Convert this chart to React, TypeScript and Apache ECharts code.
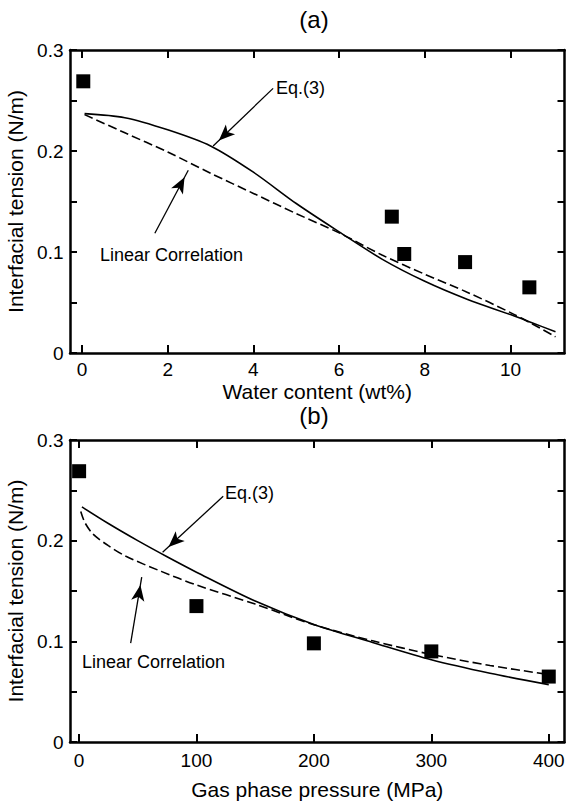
import React, { useEffect, useRef } from "react";
import * as echarts from "echarts";

const FONT = "'Liberation Sans', Arial, Helvetica, sans-serif";

// Measured interfacial tension (N/m); the same samples appear in both panels
const measuredTension = [0.269, 0.135, 0.098, 0.09, 0.065];
const measuredWater = [0.03, 7.23, 7.52, 8.94, 10.44];
const measuredPressure = [0.1, 100, 200, 300, 400];

// Panel (a): tension vs water content
const eqWaterX = [0.06, 1, 2, 3, 4, 5, 6, 7, 8, 9, 10, 10.5, 11.05];
const eqWaterY = [0.237, 0.233, 0.221, 0.205, 0.179, 0.148, 0.12, 0.093, 0.071, 0.053, 0.038, 0.03, 0.021];
const linWaterX = [0.06, 1, 2, 3, 4, 5, 6, 7, 8, 9, 10, 10.5, 11.05];
const linWaterY = [0.236, 0.218, 0.199, 0.178, 0.158, 0.138, 0.119, 0.097, 0.078, 0.06, 0.04, 0.029, 0.016];

// Panel (b): tension vs gas phase pressure
const eqPressX = [2.5, 25, 50, 75, 100, 150, 200, 250, 300, 350, 400];
const eqPressY = [0.2335, 0.217, 0.2, 0.184, 0.1687, 0.14, 0.1167, 0.0989, 0.0817, 0.0683, 0.057];
const linPressX = [1.5, 5, 12, 25, 40, 70, 100, 150, 200, 250, 300, 350, 400];
const linPressY = [0.229, 0.218, 0.2065, 0.195, 0.1845, 0.1695, 0.156, 0.137, 0.1165, 0.1005, 0.087, 0.076, 0.067];

const waterTicks = [0, 2, 4, 6, 8, 10];
const pressureTicks = [0, 100, 200, 300, 400];

// Arrow annotations: [tailX, tailY, headX, headY] in data units
const arrowEqWater = [4.46, 0.262, 3.06, 0.205];
const arrowLinWater = [1.7, 0.1185, 2.48, 0.181];
const arrowEqPress = [122.8, 0.2441, 71.2, 0.1884];
const arrowLinPress = [44, 0.0983, 53.4, 0.1638];

const zip = (xs: number[], ys: number[]) => xs.map((x, i) => [x, ys[i]]);

const BLACK = "#000";
const frameLine = { show: true, onZero: false, lineStyle: { color: BLACK, width: 2.5 } };
const tickStyle = { color: BLACK, width: 2 };

function xAxisPair(gridIndex: number, min: number, max: number, ticks: number[], name: string, nameGap: number, margin: number) {
  return [
    {
      type: "value", gridIndex, position: "bottom", min, max,
      name, nameLocation: "middle", nameGap,
      nameTextStyle: { fontSize: 21, color: BLACK, fontFamily: FONT },
      axisLine: frameLine,
      axisTick: { show: true, inside: true, length: 8, lineStyle: tickStyle, customValues: ticks },
      axisLabel: { customValues: ticks, fontSize: 19, color: BLACK, margin, fontFamily: FONT },
      splitLine: { show: false },
    },
    {
      type: "value", gridIndex, position: "top", min, max,
      axisLine: frameLine,
      axisTick: { show: true, inside: true, length: 8, lineStyle: tickStyle, customValues: ticks },
      axisLabel: { show: false },
      splitLine: { show: false },
    },
  ];
}

function yAxisPair(gridIndex: number) {
  return [
    {
      type: "value", gridIndex, position: "left", min: 0, max: 0.3, interval: 0.05,
      name: "Interfacial tension (N/m)", nameLocation: "middle", nameGap: 40, nameRotate: 90,
      nameTextStyle: { fontSize: 21, color: BLACK, fontFamily: FONT },
      axisLine: frameLine,
      axisTick: { show: true, inside: true, length: 7, lineStyle: tickStyle },
      axisLabel: {
        fontSize: 19, color: BLACK, margin: 6.5, fontFamily: FONT,
        formatter: (v: number) => {
          const k = Math.round(v * 20);
          if (k % 2 === 1) return "";
          return k === 0 ? "0" : (k / 20).toFixed(1);
        },
      },
      splitLine: { show: false },
    },
    {
      type: "value", gridIndex, position: "right", min: 0, max: 0.3, interval: 0.05,
      axisLine: frameLine,
      axisTick: { show: true, inside: true, length: 7, lineStyle: tickStyle },
      axisLabel: { show: false },
      splitLine: { show: false },
    },
  ];
}

function arrowMark(a: number[]) {
  return {
    silent: true,
    animation: false,
    label: { show: false },
    emphasis: { disabled: true },
    lineStyle: { color: BLACK, width: 1.3, type: "solid" },
    symbol: ["none", "arrow"],
    data: [
      [
        { coord: [a[0], a[1]], symbol: "none" },
        { coord: [a[2], a[3]], symbol: "arrow", symbolSize: [10, 16], symbolOffset: [0, 8] },
      ],
    ],
  };
}

function curve(xi: number, yi: number, xs: number[], ys: number[], dashed: boolean, arrow: number[]) {
  return {
    type: "line", xAxisIndex: xi, yAxisIndex: yi,
    data: zip(xs, ys),
    showSymbol: false, symbol: "none",
    smooth: 0.3,
    lineStyle: { color: BLACK, width: 1.6, type: dashed ? [9, 4] : "solid" },
    z: 3,
    markLine: arrowMark(arrow),
  };
}

function samples(xi: number, yi: number, xs: number[]) {
  return {
    type: "scatter", xAxisIndex: xi, yAxisIndex: yi,
    data: zip(xs, measuredTension),
    symbol: "rect", symbolSize: 14,
    itemStyle: { color: BLACK, opacity: 1 },
    z: 4,
  };
}

const textStyle = (x: number, y: number, text: string, size: number, align = "left") => ({
  type: "text", x, y, silent: true,
  style: { text, fontSize: size, fontFamily: FONT, fill: BLACK, textAlign: align, textVerticalAlign: "middle" },
});

const option = {
  animation: false,
  backgroundColor: "#fff",
  textStyle: { fontFamily: FONT },
  grid: [
    { left: 70, top: 50, width: 494.5, height: 303, containLabel: false, outerBoundsMode: "none" },
    { left: 70, top: 440, width: 494.5, height: 302, containLabel: false, outerBoundsMode: "none" },
  ],
  xAxis: [
    ...xAxisPair(0, -0.28, 11.26, waterTicks, "Water content (wt%)", 28, 6.5),
    ...xAxisPair(1, -7.66, 413.4, pressureTicks, "Gas phase pressure (MPa)", 37, 9),
  ],
  yAxis: [...yAxisPair(0), ...yAxisPair(1)],
  series: [
    samples(0, 0, measuredWater),
    curve(0, 0, eqWaterX, eqWaterY, false, arrowEqWater),
    curve(0, 0, linWaterX, linWaterY, true, arrowLinWater),
    samples(2, 2, measuredPressure),
    curve(2, 2, eqPressX, eqPressY, false, arrowEqPress),
    curve(2, 2, linPressX, linPressY, true, arrowLinPress),
  ],
  graphic: [
    textStyle(314, 19, "(a)", 24, "center"),
    textStyle(314, 415.5, "(b)", 24, "center"),
    textStyle(276, 88, "Eq.(3)", 18),
    textStyle(100, 254.6, "Linear Correlation", 18),
    textStyle(225, 493.3, "Eq.(3)", 18),
    textStyle(82, 661.6, "Linear Correlation", 18),
  ],
};

export default function App() {
  const ref = useRef<HTMLDivElement>(null);
  useEffect(() => {
    if (!ref.current) return;
    const chart = echarts.init(ref.current, null, { renderer: "svg" });
    chart.setOption(option as any);
    return () => chart.dispose();
  }, []);
  return (
    <div
      ref={ref}
      style={{ position: "fixed", left: 0, top: 0, width: 566, height: 802, background: "#fff" }}
    />
  );
}
